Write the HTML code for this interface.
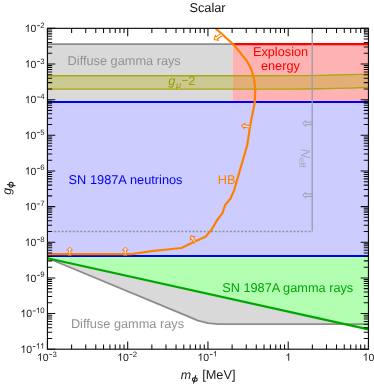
<!DOCTYPE html><html><head><meta charset="utf-8"><style>html,body{margin:0;padding:0;background:#fff;}svg{display:block;font-family:"Liberation Sans",sans-serif;will-change:transform;opacity:0.999;text-rendering:geometricPrecision;}</style></head><body>
<svg width="374" height="384" viewBox="0 0 374 384">
<rect width="374" height="384" fill="#fff"/>
<defs><clipPath id="c"><rect x="47.45" y="28.35" width="321.0" height="320.84999999999997"/></clipPath></defs>
<g clip-path="url(#c)">
<rect x="47.45" y="44.15" width="185.14999999999998" height="57.949999999999996" fill="#d9d9d9"/>
<rect x="232.6" y="44.15" width="135.85" height="57.949999999999996" fill="#ffb2b2"/>
<rect x="47.45" y="102.1" width="321.0" height="154.00000000000003" fill="#ccccff"/>
<polygon points="47.45,258.0 188,316.4 198,320.6 208,323.1 218,324.2 368.45,324.2 368.45,329.4" fill="#d9d9d9"/>
<polygon points="47.45,256.1 368.45,256.1 368.45,329.4 47.45,258.3" fill="#b2ffb2"/>
<polygon points="47.45,75.75 270.00,75.75 290.00,75.68 305.00,75.53 320.00,75.30 335.00,74.99 350.00,74.59 360.00,74.29 368.45,74.00 368.45,87.45 360.00,87.74 350.00,88.04 335.00,88.44 320.00,88.75 305.00,88.98 290.00,89.13 270.00,89.20 47.45,89.20" fill="rgba(170,170,0,0.33)"/>
<polyline points="47.45,75.75 270.00,75.75 290.00,75.68 305.00,75.53 320.00,75.30 335.00,74.99 350.00,74.59 360.00,74.29 368.45,74.00" stroke="#aaa714" stroke-width="1.3" fill="none"/>
<polyline points="47.45,89.20 270.00,89.20 290.00,89.13 305.00,88.98 320.00,88.75 335.00,88.44 350.00,88.04 360.00,87.74 368.45,87.45" stroke="#aaa714" stroke-width="1.3" fill="none"/>
<path d="M47.45,44.15 L232.6,44.15" stroke="#8c8c8c" stroke-width="1.9" fill="none"/>
<path d="M232.6,44.15 L368.45,44.15" stroke="#ff0000" stroke-width="2.2" fill="none"/>
<polyline points="47.45,258.0 188,316.4 198,320.6 208,323.1 218,324.2 368.45,324.2" stroke="#8c8c8c" stroke-width="1.8" fill="none" stroke-linejoin="round"/>
<path d="M47.45,258.3 L368.45,329.4" stroke="#00a600" stroke-width="2.2" fill="none"/>
<path d="M47.45,102.1 L368.45,102.1 M47.45,256.1 L368.45,256.1" stroke="#0000f0" stroke-width="2.0" fill="none"/>
<path d="M312.2,28.35 L312.2,231.5" stroke="#9c9cac" stroke-width="1.3" fill="none"/>
<path d="M54.1,231.5 L312.2,231.5" stroke="#8e9898" stroke-width="1.3" stroke-dasharray="2.1,1.64" fill="none"/>
<polyline points="215.2,28 233.2,44.2 240.8,53.3 247.3,61.7 251.6,70 254.3,80 255.3,90 254.8,102 250.2,125.5 247.2,145.3 234.0,190.6 230.4,198.7 225.3,204.7 222.3,213.3 217.2,220 211.3,230.1 205.4,236.8 188,244.8 181.5,248 151.5,251.2 131.5,254.2 47.45,254.2" stroke="#ff8000" stroke-width="2.2" fill="none" stroke-linejoin="round"/>
</g>
<path transform="translate(125.3,255.8) rotate(-90)" d="M0,-1.25 L5.800000000000001,-1.25 L5.800000000000001,-2.85 L8.8,0 L5.800000000000001,2.85 L5.800000000000001,1.25 L0,1.25" fill="rgba(255,255,255,0.3)" stroke="#ff8000" stroke-width="0.95" stroke-linejoin="miter"/>
<path transform="translate(69.7,255.8) rotate(-90)" d="M0,-1.25 L5.800000000000001,-1.25 L5.800000000000001,-2.85 L8.8,0 L5.800000000000001,2.85 L5.800000000000001,1.25 L0,1.25" fill="rgba(255,255,255,0.3)" stroke="#ff8000" stroke-width="0.95" stroke-linejoin="miter"/>
<path transform="translate(249.9,126.9) rotate(190)" d="M0,-1.25 L5.5,-1.25 L5.5,-2.7 L8.5,0 L5.5,2.7 L5.5,1.25 L0,1.25" fill="rgba(255,255,255,0.3)" stroke="#ff8000" stroke-width="0.95" stroke-linejoin="miter"/>
<path transform="translate(221.7,34.7) rotate(147)" d="M0,-1.25 L5.9,-1.25 L5.9,-2.7 L8.9,0 L5.9,2.7 L5.9,1.25 L0,1.25" fill="#fff" stroke="#ff8000" stroke-width="1.05" stroke-linejoin="miter"/>
<path transform="translate(195.7,242.8) rotate(-125)" d="M0,-1.25 L5.4,-1.25 L5.4,-2.85 L8.4,0 L5.4,2.85 L5.4,1.25 L0,1.25" fill="rgba(255,255,255,0.3)" stroke="#ff8000" stroke-width="0.95" stroke-linejoin="miter"/>
<path transform="translate(312.2,123.45) rotate(180)" d="M0,-1.25 L6.5,-1.25 L6.5,-2.85 L9.5,0 L6.5,2.85 L6.5,1.25 L0,1.25" fill="none" stroke="#9c9cac" stroke-width="0.95" stroke-linejoin="miter"/>
<path transform="translate(312.2,195.2) rotate(180)" d="M0,-1.25 L6.5,-1.25 L6.5,-2.85 L9.5,0 L6.5,2.85 L6.5,1.25 L0,1.25" fill="none" stroke="#9c9cac" stroke-width="0.95" stroke-linejoin="miter"/>
<rect x="47.45" y="28.35" width="321.0" height="320.84999999999997" fill="none" stroke="#0d0d0d" stroke-width="1.15"/>
<path d="M47.45,349.2 v-7.8 M47.45,28.35 v7.8 M71.61,349.2 v-4.7 M71.61,28.35 v4.7 M85.74,349.2 v-4.7 M85.74,28.35 v4.7 M95.77,349.2 v-4.7 M95.77,28.35 v4.7 M103.54,349.2 v-4.7 M103.54,28.35 v4.7 M109.90,349.2 v-4.7 M109.90,28.35 v4.7 M115.27,349.2 v-4.7 M115.27,28.35 v4.7 M119.92,349.2 v-4.7 M119.92,28.35 v4.7 M124.03,349.2 v-4.7 M124.03,28.35 v4.7 M127.70,349.2 v-7.8 M127.70,28.35 v7.8 M151.86,349.2 v-4.7 M151.86,28.35 v4.7 M165.99,349.2 v-4.7 M165.99,28.35 v4.7 M176.02,349.2 v-4.7 M176.02,28.35 v4.7 M183.79,349.2 v-4.7 M183.79,28.35 v4.7 M190.15,349.2 v-4.7 M190.15,28.35 v4.7 M195.52,349.2 v-4.7 M195.52,28.35 v4.7 M200.17,349.2 v-4.7 M200.17,28.35 v4.7 M204.28,349.2 v-4.7 M204.28,28.35 v4.7 M207.95,349.2 v-7.8 M207.95,28.35 v7.8 M232.11,349.2 v-4.7 M232.11,28.35 v4.7 M246.24,349.2 v-4.7 M246.24,28.35 v4.7 M256.27,349.2 v-4.7 M256.27,28.35 v4.7 M264.04,349.2 v-4.7 M264.04,28.35 v4.7 M270.40,349.2 v-4.7 M270.40,28.35 v4.7 M275.77,349.2 v-4.7 M275.77,28.35 v4.7 M280.42,349.2 v-4.7 M280.42,28.35 v4.7 M284.53,349.2 v-4.7 M284.53,28.35 v4.7 M288.20,349.2 v-7.8 M288.20,28.35 v7.8 M312.36,349.2 v-4.7 M312.36,28.35 v4.7 M326.49,349.2 v-4.7 M326.49,28.35 v4.7 M336.52,349.2 v-4.7 M336.52,28.35 v4.7 M344.29,349.2 v-4.7 M344.29,28.35 v4.7 M350.65,349.2 v-4.7 M350.65,28.35 v4.7 M356.02,349.2 v-4.7 M356.02,28.35 v4.7 M360.67,349.2 v-4.7 M360.67,28.35 v4.7 M364.78,349.2 v-4.7 M364.78,28.35 v4.7 M368.45,349.2 v-7.8 M368.45,28.35 v7.8 M47.45,28.35 h7.8 M368.45,28.35 h-7.8 M47.45,53.27 h4.7 M368.45,53.27 h-4.7 M47.45,46.99 h4.7 M368.45,46.99 h-4.7 M47.45,42.54 h4.7 M368.45,42.54 h-4.7 M47.45,39.08 h4.7 M368.45,39.08 h-4.7 M47.45,36.26 h4.7 M368.45,36.26 h-4.7 M47.45,33.87 h4.7 M368.45,33.87 h-4.7 M47.45,31.80 h4.7 M368.45,31.80 h-4.7 M47.45,29.98 h4.7 M368.45,29.98 h-4.7 M47.45,64.00 h7.8 M368.45,64.00 h-7.8 M47.45,88.92 h4.7 M368.45,88.92 h-4.7 M47.45,82.64 h4.7 M368.45,82.64 h-4.7 M47.45,78.19 h4.7 M368.45,78.19 h-4.7 M47.45,74.73 h4.7 M368.45,74.73 h-4.7 M47.45,71.91 h4.7 M368.45,71.91 h-4.7 M47.45,69.52 h4.7 M368.45,69.52 h-4.7 M47.45,67.45 h4.7 M368.45,67.45 h-4.7 M47.45,65.63 h4.7 M368.45,65.63 h-4.7 M47.45,99.65 h7.8 M368.45,99.65 h-7.8 M47.45,124.57 h4.7 M368.45,124.57 h-4.7 M47.45,118.29 h4.7 M368.45,118.29 h-4.7 M47.45,113.84 h4.7 M368.45,113.84 h-4.7 M47.45,110.38 h4.7 M368.45,110.38 h-4.7 M47.45,107.56 h4.7 M368.45,107.56 h-4.7 M47.45,105.17 h4.7 M368.45,105.17 h-4.7 M47.45,103.10 h4.7 M368.45,103.10 h-4.7 M47.45,101.28 h4.7 M368.45,101.28 h-4.7 M47.45,135.30 h7.8 M368.45,135.30 h-7.8 M47.45,160.22 h4.7 M368.45,160.22 h-4.7 M47.45,153.94 h4.7 M368.45,153.94 h-4.7 M47.45,149.49 h4.7 M368.45,149.49 h-4.7 M47.45,146.03 h4.7 M368.45,146.03 h-4.7 M47.45,143.21 h4.7 M368.45,143.21 h-4.7 M47.45,140.82 h4.7 M368.45,140.82 h-4.7 M47.45,138.75 h4.7 M368.45,138.75 h-4.7 M47.45,136.93 h4.7 M368.45,136.93 h-4.7 M47.45,170.95 h7.8 M368.45,170.95 h-7.8 M47.45,195.87 h4.7 M368.45,195.87 h-4.7 M47.45,189.59 h4.7 M368.45,189.59 h-4.7 M47.45,185.14 h4.7 M368.45,185.14 h-4.7 M47.45,181.68 h4.7 M368.45,181.68 h-4.7 M47.45,178.86 h4.7 M368.45,178.86 h-4.7 M47.45,176.47 h4.7 M368.45,176.47 h-4.7 M47.45,174.40 h4.7 M368.45,174.40 h-4.7 M47.45,172.58 h4.7 M368.45,172.58 h-4.7 M47.45,206.60 h7.8 M368.45,206.60 h-7.8 M47.45,231.52 h4.7 M368.45,231.52 h-4.7 M47.45,225.24 h4.7 M368.45,225.24 h-4.7 M47.45,220.79 h4.7 M368.45,220.79 h-4.7 M47.45,217.33 h4.7 M368.45,217.33 h-4.7 M47.45,214.51 h4.7 M368.45,214.51 h-4.7 M47.45,212.12 h4.7 M368.45,212.12 h-4.7 M47.45,210.05 h4.7 M368.45,210.05 h-4.7 M47.45,208.23 h4.7 M368.45,208.23 h-4.7 M47.45,242.25 h7.8 M368.45,242.25 h-7.8 M47.45,267.17 h4.7 M368.45,267.17 h-4.7 M47.45,260.89 h4.7 M368.45,260.89 h-4.7 M47.45,256.44 h4.7 M368.45,256.44 h-4.7 M47.45,252.98 h4.7 M368.45,252.98 h-4.7 M47.45,250.16 h4.7 M368.45,250.16 h-4.7 M47.45,247.77 h4.7 M368.45,247.77 h-4.7 M47.45,245.70 h4.7 M368.45,245.70 h-4.7 M47.45,243.88 h4.7 M368.45,243.88 h-4.7 M47.45,277.90 h7.8 M368.45,277.90 h-7.8 M47.45,302.82 h4.7 M368.45,302.82 h-4.7 M47.45,296.54 h4.7 M368.45,296.54 h-4.7 M47.45,292.09 h4.7 M368.45,292.09 h-4.7 M47.45,288.63 h4.7 M368.45,288.63 h-4.7 M47.45,285.81 h4.7 M368.45,285.81 h-4.7 M47.45,283.42 h4.7 M368.45,283.42 h-4.7 M47.45,281.35 h4.7 M368.45,281.35 h-4.7 M47.45,279.53 h4.7 M368.45,279.53 h-4.7 M47.45,313.55 h7.8 M368.45,313.55 h-7.8 M47.45,338.47 h4.7 M368.45,338.47 h-4.7 M47.45,332.19 h4.7 M368.45,332.19 h-4.7 M47.45,327.74 h4.7 M368.45,327.74 h-4.7 M47.45,324.28 h4.7 M368.45,324.28 h-4.7 M47.45,321.46 h4.7 M368.45,321.46 h-4.7 M47.45,319.07 h4.7 M368.45,319.07 h-4.7 M47.45,317.00 h4.7 M368.45,317.00 h-4.7 M47.45,315.18 h4.7 M368.45,315.18 h-4.7 M47.45,349.20 h7.8 M368.45,349.20 h-7.8" stroke="#0d0d0d" stroke-width="1.05" fill="none"/>
<g fill="#1a1a1a">
<path transform="translate(24.72,31.95) scale(10.5,-10.5)" d="M0.3726,0 L0.2847,0 L0.2847,0.560 Q0.253,0.530 0.2014,0.4995 Q0.150,0.469 0.1089,0.454 L0.1089,0.539 Q0.1826,0.5737 0.2378,0.623 Q0.293,0.672 0.316,0.71875 L0.3726,0.71875 Z"/><text x="30.55" y="31.95" font-size="10.5">0</text><rect x="37.14" y="25.35" width="2.75" height="0.8"/><text x="40.21" y="27.85" font-size="7.8">2</text>
<path transform="translate(24.72,67.60) scale(10.5,-10.5)" d="M0.3726,0 L0.2847,0 L0.2847,0.560 Q0.253,0.530 0.2014,0.4995 Q0.150,0.469 0.1089,0.454 L0.1089,0.539 Q0.1826,0.5737 0.2378,0.623 Q0.293,0.672 0.316,0.71875 L0.3726,0.71875 Z"/><text x="30.55" y="67.60" font-size="10.5">0</text><rect x="37.14" y="61.00" width="2.75" height="0.8"/><text x="40.21" y="63.50" font-size="7.8">3</text>
<path transform="translate(24.72,103.25) scale(10.5,-10.5)" d="M0.3726,0 L0.2847,0 L0.2847,0.560 Q0.253,0.530 0.2014,0.4995 Q0.150,0.469 0.1089,0.454 L0.1089,0.539 Q0.1826,0.5737 0.2378,0.623 Q0.293,0.672 0.316,0.71875 L0.3726,0.71875 Z"/><text x="30.55" y="103.25" font-size="10.5">0</text><rect x="37.14" y="96.65" width="2.75" height="0.8"/><text x="40.21" y="99.15" font-size="7.8">4</text>
<path transform="translate(24.72,138.90) scale(10.5,-10.5)" d="M0.3726,0 L0.2847,0 L0.2847,0.560 Q0.253,0.530 0.2014,0.4995 Q0.150,0.469 0.1089,0.454 L0.1089,0.539 Q0.1826,0.5737 0.2378,0.623 Q0.293,0.672 0.316,0.71875 L0.3726,0.71875 Z"/><text x="30.55" y="138.90" font-size="10.5">0</text><rect x="37.14" y="132.30" width="2.75" height="0.8"/><text x="40.21" y="134.80" font-size="7.8">5</text>
<path transform="translate(24.72,174.55) scale(10.5,-10.5)" d="M0.3726,0 L0.2847,0 L0.2847,0.560 Q0.253,0.530 0.2014,0.4995 Q0.150,0.469 0.1089,0.454 L0.1089,0.539 Q0.1826,0.5737 0.2378,0.623 Q0.293,0.672 0.316,0.71875 L0.3726,0.71875 Z"/><text x="30.55" y="174.55" font-size="10.5">0</text><rect x="37.14" y="167.95" width="2.75" height="0.8"/><text x="40.21" y="170.45" font-size="7.8">6</text>
<path transform="translate(24.72,210.20) scale(10.5,-10.5)" d="M0.3726,0 L0.2847,0 L0.2847,0.560 Q0.253,0.530 0.2014,0.4995 Q0.150,0.469 0.1089,0.454 L0.1089,0.539 Q0.1826,0.5737 0.2378,0.623 Q0.293,0.672 0.316,0.71875 L0.3726,0.71875 Z"/><text x="30.55" y="210.20" font-size="10.5">0</text><rect x="37.14" y="203.60" width="2.75" height="0.8"/><text x="40.21" y="206.10" font-size="7.8">7</text>
<path transform="translate(24.72,245.85) scale(10.5,-10.5)" d="M0.3726,0 L0.2847,0 L0.2847,0.560 Q0.253,0.530 0.2014,0.4995 Q0.150,0.469 0.1089,0.454 L0.1089,0.539 Q0.1826,0.5737 0.2378,0.623 Q0.293,0.672 0.316,0.71875 L0.3726,0.71875 Z"/><text x="30.55" y="245.85" font-size="10.5">0</text><rect x="37.14" y="239.25" width="2.75" height="0.8"/><text x="40.21" y="241.75" font-size="7.8">8</text>
<path transform="translate(24.72,281.50) scale(10.5,-10.5)" d="M0.3726,0 L0.2847,0 L0.2847,0.560 Q0.253,0.530 0.2014,0.4995 Q0.150,0.469 0.1089,0.454 L0.1089,0.539 Q0.1826,0.5737 0.2378,0.623 Q0.293,0.672 0.316,0.71875 L0.3726,0.71875 Z"/><text x="30.55" y="281.50" font-size="10.5">0</text><rect x="37.14" y="274.90" width="2.75" height="0.8"/><text x="40.21" y="277.40" font-size="7.8">9</text>
<path transform="translate(20.38,317.15) scale(10.5,-10.5)" d="M0.3726,0 L0.2847,0 L0.2847,0.560 Q0.253,0.530 0.2014,0.4995 Q0.150,0.469 0.1089,0.454 L0.1089,0.539 Q0.1826,0.5737 0.2378,0.623 Q0.293,0.672 0.316,0.71875 L0.3726,0.71875 Z"/><text x="26.22" y="317.15" font-size="10.5">0</text><rect x="32.80" y="310.55" width="2.75" height="0.8"/><path transform="translate(35.88,313.05) scale(7.8,-7.8)" d="M0.3726,0 L0.2847,0 L0.2847,0.560 Q0.253,0.530 0.2014,0.4995 Q0.150,0.469 0.1089,0.454 L0.1089,0.539 Q0.1826,0.5737 0.2378,0.623 Q0.293,0.672 0.316,0.71875 L0.3726,0.71875 Z"/><text x="40.21" y="313.05" font-size="7.8">0</text>
<path transform="translate(20.38,352.80) scale(10.5,-10.5)" d="M0.3726,0 L0.2847,0 L0.2847,0.560 Q0.253,0.530 0.2014,0.4995 Q0.150,0.469 0.1089,0.454 L0.1089,0.539 Q0.1826,0.5737 0.2378,0.623 Q0.293,0.672 0.316,0.71875 L0.3726,0.71875 Z"/><text x="26.22" y="352.80" font-size="10.5">0</text><rect x="32.80" y="346.20" width="2.75" height="0.8"/><path transform="translate(35.88,348.70) scale(7.8,-7.8)" d="M0.3726,0 L0.2847,0 L0.2847,0.560 Q0.253,0.530 0.2014,0.4995 Q0.150,0.469 0.1089,0.454 L0.1089,0.539 Q0.1826,0.5737 0.2378,0.623 Q0.293,0.672 0.316,0.71875 L0.3726,0.71875 Z"/><path transform="translate(40.21,348.70) scale(7.8,-7.8)" d="M0.3726,0 L0.2847,0 L0.2847,0.560 Q0.253,0.530 0.2014,0.4995 Q0.150,0.469 0.1089,0.454 L0.1089,0.539 Q0.1826,0.5737 0.2378,0.623 Q0.293,0.672 0.316,0.71875 L0.3726,0.71875 Z"/>
<path transform="translate(36.93,360.70) scale(10.5,-10.5)" d="M0.3726,0 L0.2847,0 L0.2847,0.560 Q0.253,0.530 0.2014,0.4995 Q0.150,0.469 0.1089,0.454 L0.1089,0.539 Q0.1826,0.5737 0.2378,0.623 Q0.293,0.672 0.316,0.71875 L0.3726,0.71875 Z"/><text x="42.77" y="360.70" font-size="10.5">0</text><rect x="49.36" y="354.10" width="2.75" height="0.8"/><text x="52.43" y="356.60" font-size="7.8">3</text>
<path transform="translate(117.18,360.70) scale(10.5,-10.5)" d="M0.3726,0 L0.2847,0 L0.2847,0.560 Q0.253,0.530 0.2014,0.4995 Q0.150,0.469 0.1089,0.454 L0.1089,0.539 Q0.1826,0.5737 0.2378,0.623 Q0.293,0.672 0.316,0.71875 L0.3726,0.71875 Z"/><text x="123.02" y="360.70" font-size="10.5">0</text><rect x="129.61" y="354.10" width="2.75" height="0.8"/><text x="132.68" y="356.60" font-size="7.8">2</text>
<path transform="translate(197.43,360.70) scale(10.5,-10.5)" d="M0.3726,0 L0.2847,0 L0.2847,0.560 Q0.253,0.530 0.2014,0.4995 Q0.150,0.469 0.1089,0.454 L0.1089,0.539 Q0.1826,0.5737 0.2378,0.623 Q0.293,0.672 0.316,0.71875 L0.3726,0.71875 Z"/><text x="203.27" y="360.70" font-size="10.5">0</text><rect x="209.86" y="354.10" width="2.75" height="0.8"/><path transform="translate(212.93,356.60) scale(7.8,-7.8)" d="M0.3726,0 L0.2847,0 L0.2847,0.560 Q0.253,0.530 0.2014,0.4995 Q0.150,0.469 0.1089,0.454 L0.1089,0.539 Q0.1826,0.5737 0.2378,0.623 Q0.293,0.672 0.316,0.71875 L0.3726,0.71875 Z"/>
<path transform="translate(285.28,360.70) scale(10.5,-10.5)" d="M0.3726,0 L0.2847,0 L0.2847,0.560 Q0.253,0.530 0.2014,0.4995 Q0.150,0.469 0.1089,0.454 L0.1089,0.539 Q0.1826,0.5737 0.2378,0.623 Q0.293,0.672 0.316,0.71875 L0.3726,0.71875 Z"/>
<path transform="translate(362.61,360.70) scale(10.5,-10.5)" d="M0.3726,0 L0.2847,0 L0.2847,0.560 Q0.253,0.530 0.2014,0.4995 Q0.150,0.469 0.1089,0.454 L0.1089,0.539 Q0.1826,0.5737 0.2378,0.623 Q0.293,0.672 0.316,0.71875 L0.3726,0.71875 Z"/><text x="368.45" y="360.70" font-size="10.5">0</text>
</g>
<g font-size="12.75">
<text x="189.45" y="11.5" fill="#111">Scalar</text>
<text x="67.6" y="64.9" fill="#929292">Diffuse gamma rays</text>
<text x="252.9" y="55.6" fill="#f00">Explosion</text>
<text x="260.9" y="69.7" fill="#f00">energy</text>
<text x="168.3" y="84.9" fill="#9c9c00" font-style="italic">g</text>
<text transform="translate(175.6,87.5) skewX(-12)" font-size="9" fill="#9c9c00">μ</text>
<rect x="182.0" y="79.95" width="5.6" height="0.95" fill="#9c9c00"/>
<text x="188.2" y="84.9" fill="#9c9c00">2</text>
<text x="68.45" y="183.8" fill="#0000f0" word-spacing="0.3">SN 1987A neutrinos</text>
<text x="217.85" y="183.8" fill="#ff8000">HB</text>
<text x="222.15" y="291.8" fill="#00a600">SN 1987A gamma rays</text>
<text x="70.9" y="327.6" fill="#929292">Diffuse gamma rays</text>
<text x="180.85" y="378.8" fill="#1a1a1a" font-size="12.4" font-style="italic">m</text>
<text x="202.2" y="378.8" fill="#1a1a1a">[MeV]</text>
<text transform="translate(11.3,194.8) rotate(-90)" fill="#1a1a1a" font-style="italic" font-size="12.3">g</text>
<text transform="translate(300.8,148.7) rotate(90)" fill="#a9a9bd"><tspan font-style="italic">N</tspan><tspan font-size="9.2" dy="1.9" dx="-0.4">eff</tspan></text>
</g>
<g stroke="#1a1a1a" stroke-width="1.05" fill="none" stroke-linecap="round">
<ellipse cx="194.8" cy="379.4" rx="2.35" ry="1.75"/><path d="M195.7,375.6 L193.6,383.1"/>
<ellipse cx="11.1" cy="184.75" rx="2.0" ry="2.5"/><path d="M7.4,184.5 L15.2,185.7"/>
</g>
</svg></body></html>
